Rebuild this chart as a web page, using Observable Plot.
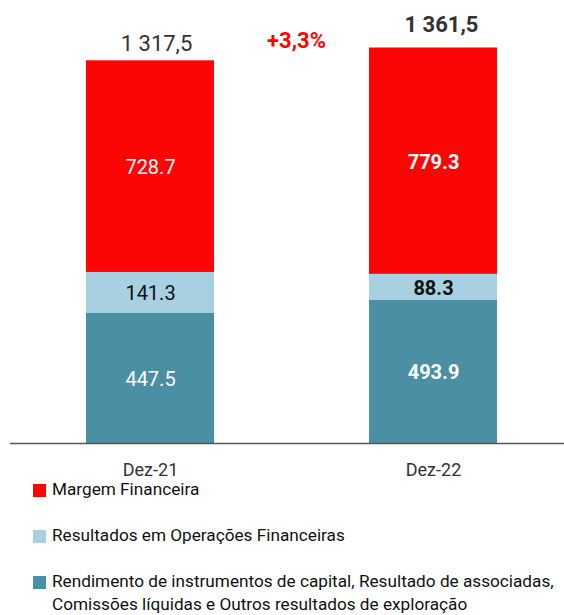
<!DOCTYPE html>
<html>
<head>
<meta charset="utf-8">
<script src="https://cdn.jsdelivr.net/npm/d3@7"></script>
<script src="https://cdn.jsdelivr.net/npm/@observablehq/plot@0.6"></script>
<style>
  html, body { margin: 0; padding: 0; background: #fff; }
  body { width: 564px; height: 615px; overflow: hidden; font-family: Roboto, sans-serif; }
  #chart svg { display: block; }
  #legend { margin-top: -12.5px; padding-left: 33px; position: relative; }
  .item { display: flex; align-items: flex-start; font-size: 17.2px; line-height: 23px; color: #111; margin-bottom: 23px; }
  .sw { flex: 0 0 13px; width: 13px; height: 13px; margin-top: 6px; margin-right: 6px; }
</style>
</head>
<body>
<div id="chart"></div>
<div id="legend"></div>
<script>
const years = ["Dez-21", "Dez-22"];
const series = [
  "Rendimento de instrumentos de capital, Resultado de associadas, Comissões líquidas e Outros resultados de exploração",
  "Resultados em Operações Financeiras",
  "Margem Financeira"
];
const rendimento = [447.5, 493.9];
const resultados = [141.3, 88.3];
const margem = [728.7, 779.3];
const totals = [1317.5, 1361.5];
const totalLabels = ["1 317,5", "1 361,5"];
const changeLabel = "+3,3%";
const colors = ["#4a8fa4", "#a7d0e0", "#fb0505"];
const legendOrder = [2, 1, 0];

const valuesBySeries = [rendimento, resultados, margem];
const rows = [];
years.forEach((yr, i) => {
  series.forEach((s, j) => {
    rows.push({year: yr, series: s, value: valuesBySeries[j][i], label: valuesBySeries[j][i].toFixed(1)});
  });
});
const totalRows = years.map((yr, i) => ({year: yr, total: totals[i], label: totalLabels[i]}));

const stackOpts = {x: "year", y: "value", z: "series", order: null};
const lab = (yr, light) => d => (d.year === yr && (d.series === series[1]) === light) ? d.label : "";

const chart = Plot.plot({
  width: 564,
  height: 490,
  marginLeft: 10,
  marginRight: 0,
  marginTop: 0,
  marginBottom: 47,
  style: {fontFamily: "Roboto, sans-serif", background: "transparent"},
  x: {domain: years, range: [10, 572], paddingInner: 0.5493, paddingOuter: 0.2641, label: null},
  y: {domain: [0, 1525], axis: null},
  color: {domain: series, range: colors},
  marks: [
    Plot.barY(rows, Plot.stackY({...stackOpts, fill: "series", inset: 0})),
    Plot.ruleY([0], {stroke: "#555", strokeWidth: 1.5}),
    Plot.axisX({tickSize: 0, tickPadding: 20, fontSize: 18, fill: "#333", label: null}),
    // in-bar labels
    Plot.text(rows, Plot.stackY({...stackOpts, text: lab("Dez-21", false), fill: "#fff", fontSize: 20, dy: 1})),
    Plot.text(rows, Plot.stackY({...stackOpts, text: lab("Dez-21", true), fill: "#111", fontSize: 20, dy: 1})),
    Plot.text(rows, Plot.stackY({...stackOpts, text: lab("Dez-22", false), fill: "#fff", fontSize: 20, fontWeight: "bold", dy: 1})),
    Plot.text(rows, Plot.stackY({...stackOpts, text: lab("Dez-22", true), fill: "#111", fontSize: 20, fontWeight: "bold", dy: 1})),
    // totals
    Plot.text(totalRows, {x: "year", y: "total", text: d => d.year === "Dez-21" ? d.label : "", fill: "#333", fontSize: 22, dx: 6, dy: -17}),
    Plot.text(totalRows, {x: "year", y: "total", text: d => d.year === "Dez-22" ? d.label : "", fill: "#333", fontSize: 22, fontWeight: "bold", dx: 8, dy: -23}),
    // change
    Plot.text([changeLabel], {x: () => years[1], y: () => totals[1], text: d => d, fill: "#fb0505", fontSize: 22, fontWeight: "bold", dx: -137, dy: -7})
  ]
});
document.getElementById("chart").appendChild(chart);

const legend = document.getElementById("legend");
legendOrder.forEach(j => {
  const item = document.createElement("div");
  item.className = "item";
  const sw = document.createElement("span");
  sw.className = "sw";
  sw.style.background = colors[j];
  const t = document.createElement("span");
  t.textContent = series[j];
  item.appendChild(sw);
  item.appendChild(t);
  legend.appendChild(item);
});
</script>
</body>
</html>
